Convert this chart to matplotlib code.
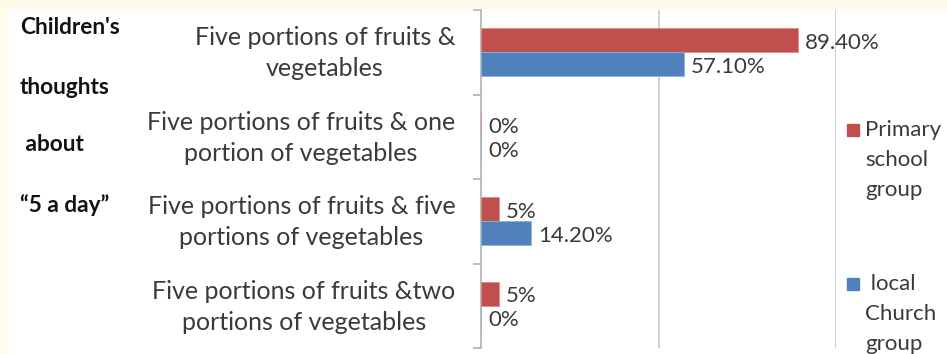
import matplotlib.pyplot as plt
import matplotlib.transforms as mtransforms
from matplotlib.patches import Rectangle

# survey answers, top to bottom
categories = ["Five portions of fruits &\nvegetables",
              "Five portions of fruits & one\nportion of vegetables",
              "Five portions of fruits & five\nportions of vegetables",
              "Five portions of fruits &two\nportions of vegetables"]
primary_school = [0.894, 0.0, 0.05, 0.05]
church_group = [0.571, 0.0, 0.142, 0.0]
primary_labels = ["89.40%", "0%", "5%", "5%"]
church_labels = ["57.10%", "0%", "14.20%", "0%"]
side_title = ["Children's", "thoughts", " about", "\u201c5 a day\u201d"]
legend_names = [["Primary", "school", "group"], [" local", "Church", "group"]]

RED = "#C0504D"
BLUE = "#4F81BD"
TXT = "#3A3A3A"
FONT = "Lato"

W, H = 947, 354
fig = plt.figure(figsize=(W / 100, H / 100), dpi=100, facecolor="white")

# cream strip along top and left edge
fig.patches.append(Rectangle((0, (H - 8) / H), 1, 8 / H, transform=fig.transFigure,
                             color="#FFFBEA", zorder=0))
fig.patches.append(Rectangle((0, 0), 6 / W, 1, transform=fig.transFigure,
                             color="#FFFBEA", zorder=0))

ax = fig.add_axes([481 / W, 6 / H, (836 - 481) / W, (348 - 10) / H])
ax.set_facecolor("none")

y = list(range(len(categories)))
h = 0.285
ax.barh([v - h / 2 for v in y], primary_school, height=h, color=RED,
        edgecolor="#D98C8A", linewidth=0.6, zorder=3)
ax.barh([v + h / 2 for v in y], church_group, height=h, color=BLUE,
        edgecolor="#8FB0D8", linewidth=0.6, zorder=3)

for i in y:
    ax.annotate(primary_labels[i], (primary_school[i], i - h / 2 + 0.03),
                xytext=(5, 0), textcoords="offset points", va="center",
                ha="left", fontsize=16, color=TXT, family=FONT)
    ax.annotate(church_labels[i], (church_group[i], i + h / 2 + 0.03),
                xytext=(5, 0), textcoords="offset points", va="center",
                ha="left", fontsize=16, color=TXT, family=FONT)

ax.set_xlim(0, 1)
ax.set_ylim(3.5, -0.5)
ax.set_xticks([])
for gx in (0.5, 1.0):
    ax.axvline(gx, color="#C8C8C8", linewidth=1.2, zorder=1)

ax.set_yticks(y)
ax.set_yticklabels(categories, fontsize=18, color=TXT, family=FONT,
                   multialignment="center", linespacing=1.42)
ax.tick_params(axis="y", length=0, pad=18.5)
# nudge the category text up a little
lift = mtransforms.ScaledTranslation(0, 5 / 100, fig.dpi_scale_trans)
for lab in ax.get_yticklabels():
    lab.set_transform(lab.get_transform() + lift)
ax.set_yticks([-0.5, 0.5, 1.5, 2.5, 3.5], minor=True)
ax.tick_params(axis="y", which="minor", length=6, width=1.2, color="#B0B0B0")

for s in ("top", "right", "bottom"):
    ax.spines[s].set_visible(False)
ax.spines["left"].set_color("#B0B0B0")
ax.spines["left"].set_linewidth(1.2)

# bold side heading on the far left
for t, ty in zip(side_title, [27, 87, 145, 205]):
    fig.text(20 / W, 1 - ty / H, t, fontsize=16.3, fontweight="bold",
             color="#111111", family=FONT, va="center", ha="left")

# legend drawn as squares with stacked text
for col, names, ty in ((RED, legend_names[0], 130), (BLUE, legend_names[1], 284)):
    fig.patches.append(Rectangle((847 / W, 1 - (ty + 6) / H), 12 / W, 12 / H,
                                 transform=fig.transFigure, color=col))
    for k, name in enumerate(names):
        fig.text(865 / W, 1 - (ty + 30 * k) / H, name, fontsize=16, color=TXT,
                 family=FONT, va="center", ha="left")

fig.savefig("out.png", dpi=100, facecolor=fig.get_facecolor())
